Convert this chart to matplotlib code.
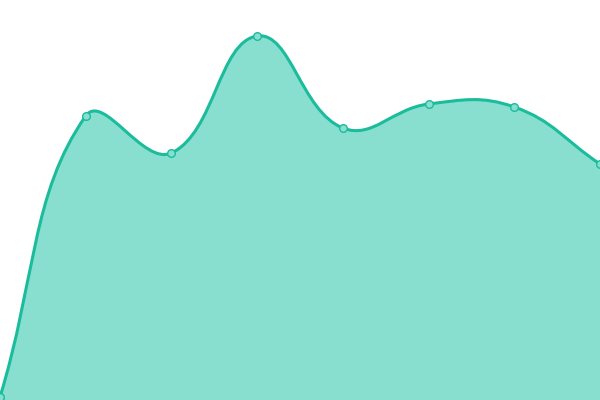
import matplotlib
matplotlib.use("Agg")
import matplotlib.pyplot as plt
import numpy as np
from matplotlib.path import Path
from matplotlib.patches import PathPatch

categories = ["A", "B", "C", "D", "E", "F", "G", "H"]
values = [3, 284, 247, 364, 272, 296, 293, 236]

LINE = "#1abc9c"
FILL = "#88dfcf"

fig = plt.figure(figsize=(6, 4), dpi=100)
ax = fig.add_axes([0, 0, 1, 1])
ax.set_xlim(0, len(categories) - 1)
ax.set_ylim(0, 400)
ax.axis("off")

xs = np.arange(len(categories), dtype=float)
pts = ax.transData.transform(np.column_stack([xs, values]))

smooth = 0.42
n = len(pts)
cps = []
for i in range(n):
    p = pts[i]
    prev = pts[i - 1] if i > 0 else p
    nxt = pts[i + 1] if i < n - 1 else p
    v = (nxt - prev) * smooth
    d0 = np.linalg.norm(p - prev)
    d1 = np.linalg.norm(p - nxt)
    s = d0 + d1
    if s:
        d0 /= s
        d1 /= s
    cps.append((p - v * d0, p + v * d1))

verts = [pts[0]]
codes = [Path.MOVETO]
for i in range(n - 1):
    verts += [cps[i][1], cps[i + 1][0], pts[i + 1]]
    codes += [Path.CURVE4] * 3
verts = np.array(verts)
inv = ax.transData.inverted()
dverts = inv.transform(verts)

line_path = Path(dverts, codes)
base = ax.transData.transform([[xs[-1], 0], [xs[0], 0]])
fill_verts = np.vstack([dverts, inv.transform(base), dverts[:1]])
fill_codes = codes + [Path.LINETO, Path.LINETO, Path.CLOSEPOLY]
ax.add_patch(PathPatch(Path(fill_verts, fill_codes), facecolor=FILL, edgecolor="none", zorder=1))
ax.add_patch(PathPatch(line_path, facecolor="none", edgecolor=LINE, lw=2.2, zorder=2, capstyle="round"))
ax.plot(xs, values, "o", ms=5.5, mfc=FILL, mec=LINE, mew=1, zorder=3, clip_on=False)

fig.savefig("out.png", dpi=100)
